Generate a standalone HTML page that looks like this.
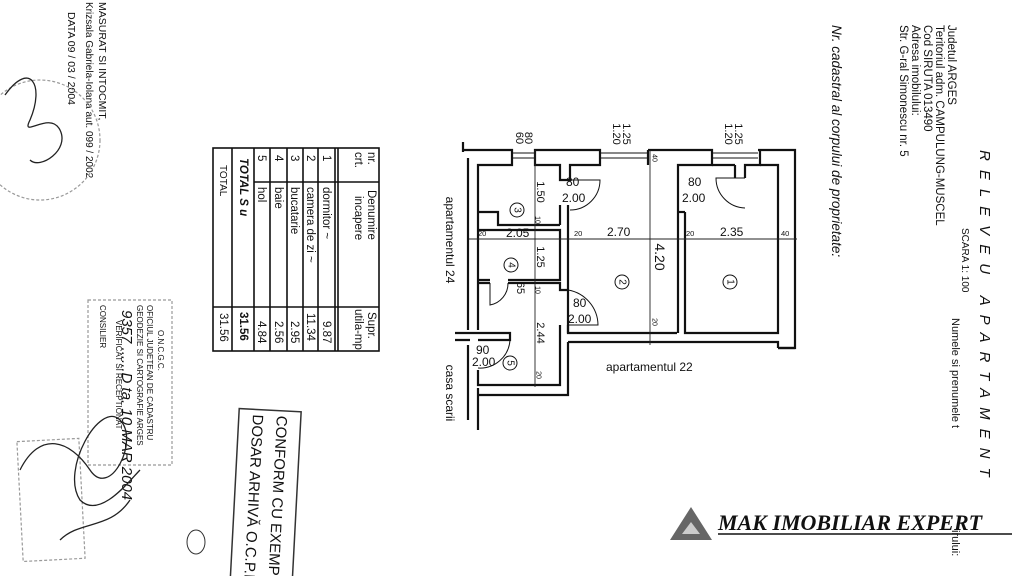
<!DOCTYPE html>
<html><head><meta charset="utf-8"><style>
html,body{margin:0;padding:0;background:#fff;}
svg{display:block;}
text{font-family:"Liberation Sans",sans-serif;fill:#111;}
text.logo{font-family:"Liberation Serif",serif;}
</style></head><body>
<svg width="1024" height="576" viewBox="0 0 1024 576" xmlns="http://www.w3.org/2000/svg">
<rect width="1024" height="576" fill="#fff"/>

<!-- Header (rotated) -->
<text transform="translate(980,150) rotate(90)" font-size="15" font-style="italic" letter-spacing="9">RELEVEU  APARTAMENT</text>
<text transform="translate(962,228) rotate(90)" font-size="10">SCARA 1: 100</text>
<text transform="translate(952,318) rotate(90)" font-size="11">Numele si prenumele t</text>
<text transform="translate(952,530) rotate(90)" font-size="11">irului:</text>
<text transform="translate(948,25) rotate(90)" font-size="11.5">Judetul  ARGES</text>
<text transform="translate(936,25) rotate(90)" font-size="11.5">Teritoriul adm.  CAMPULUNG-MUSCEL</text>
<text transform="translate(924,25) rotate(90)" font-size="11.5">Cod SIRUTA     013490</text>
<text transform="translate(912,25) rotate(90)" font-size="11.5">Adresa imobilului:</text>
<text transform="translate(900,25) rotate(90)" font-size="11.5">Str. G-ral Simonescu  nr. 5</text>
<text transform="translate(832,25) rotate(90)" font-size="13.5" font-style="italic">Nr. cadastral al corpului de proprietate:</text>

<!-- Left text -->
<text transform="translate(99,2) rotate(90)" font-size="10.5">MASURAT SI INTOCMIT,</text>
<text transform="translate(86,2) rotate(90)" font-size="10">Krizsala Gabriela-Iolana aut. 099 / 2002</text>
<text transform="translate(68,12) rotate(90)" font-size="10.5">DATA  09  / 03 / 2004</text>

<!-- Table -->
<g stroke="#111" stroke-width="1.6" fill="none">
<rect x="213" y="148" width="166" height="203"/>
<line x1="335" y1="148" x2="335" y2="351"/>
<line x1="338" y1="148" x2="338" y2="351"/>
<line x1="318" y1="148" x2="318" y2="351"/>
<line x1="303" y1="148" x2="303" y2="351"/>
<line x1="287" y1="148" x2="287" y2="351"/>
<line x1="270" y1="148" x2="270" y2="351"/>
<line x1="254" y1="148" x2="254" y2="351"/>
<line x1="232" y1="148" x2="232" y2="351"/>
<line x1="254" y1="182" x2="379" y2="182"/>
<line x1="213" y1="307" x2="379" y2="307"/>
</g>
<g font-size="11.5">
<text transform="translate(368,152) rotate(90)">nr.</text>
<text transform="translate(355,152) rotate(90)">crt.</text>
<text transform="translate(368,190) rotate(90)">Denumire</text>
<text transform="translate(355,196) rotate(90)">incapere</text>
<text transform="translate(368,312) rotate(90)">Supr.</text>
<text transform="translate(355,309) rotate(90)">utila-mp</text>
<text transform="translate(323,155) rotate(90)">1</text><text transform="translate(323,187) rotate(90)">dormitor ~</text><text transform="translate(323,321) rotate(90)">9.87</text>
<text transform="translate(307,155) rotate(90)">2</text><text transform="translate(307,187) rotate(90)">camera de zi ~</text><text transform="translate(307,313) rotate(90)">11.34</text>
<text transform="translate(291,155) rotate(90)">3</text><text transform="translate(291,187) rotate(90)">bucatarie</text><text transform="translate(291,321) rotate(90)">2.95</text>
<text transform="translate(275,155) rotate(90)">4</text><text transform="translate(275,187) rotate(90)">baie</text><text transform="translate(275,321) rotate(90)">2.56</text>
<text transform="translate(258,155) rotate(90)">5</text><text transform="translate(258,187) rotate(90)">hol</text><text transform="translate(258,321) rotate(90)">4.84</text>
<text transform="translate(240,158) rotate(90)" font-weight="bold" font-style="italic">TOTAL  S u</text><text transform="translate(240,312) rotate(90)" font-weight="bold">31.56</text>
<text transform="translate(220,165) rotate(90)" font-size="10">TOTAL</text><text transform="translate(220,313) rotate(90)">31.56</text>
</g>

<!-- Floor plan -->
<g stroke="#111" stroke-width="2.2" fill="none">
<path d="M463,142 V152 M463,150 H512 V165 H478 V330 M468,158 V330 M468,345 V420 M478,388 V430"/>
<path d="M535,150 H600 V165 H570 V180 H560 V165 H535 Z"/>
<path d="M648,150 H712 V165 H678 V333 M648,150 V165"/>
<path d="M758,150 H795 V348 H778 M760,150 V165 H745 V178 M735,165 V178 M735,165 H712"/>
<path d="M512,153 H535 M512,158 H535 M600,153 H648 M600,158 H648 M712,153 H758 M712,158 H758" stroke-width="1"/>
<path d="M685,212 V333 H778 V165 H760"/>
<path d="M678,212 H685"/>
<path d="M568,205 V333 H677"/>
<path d="M560,205 V225"/>
<path d="M478,212 H498 V225 H560"/>
<path d="M478,230 H560 V280 H508 M478,280 H490 M478,283 H490"/>
<path d="M508,283 H560 V290 H568"/>
<path d="M568,325 V333 M560,325 V330"/>
<path d="M455,333 H510 V340 H478 M455,340 H470"/>
<path d="M560,330 V385 H478 V370 M568,342 V395 H478"/>
<path d="M568,342 H778 V348 M778,348 H795"/>
</g>
<g stroke="#111" stroke-width="1" fill="none">
<path d="M570,180 H600 A30,30 0 0 1 570,210"/>
<path d="M745,178 H716 A30,30 0 0 0 745,208"/>
<path d="M568,290 A36,36 0 0 1 598,325 H568"/>
<path d="M508,283 A22,22 0 0 1 490,305 V283"/>
<path d="M510,340 A30,30 0 0 1 478,368"/>
</g>
<g stroke="#222" stroke-width="0.9">
<line x1="469" y1="239" x2="797" y2="239"/>
<line x1="535" y1="150" x2="535" y2="387"/>
<line x1="650" y1="150" x2="650" y2="345"/>
</g>
<g font-size="7.5">
<text x="478" y="236">20</text><text x="574" y="236">20</text><text x="686" y="236">20</text><text x="781" y="236">40</text>
</g>
<g font-size="12">
<text x="506" y="237">2.05</text><text x="607" y="236">2.70</text><text x="720" y="236">2.35</text>
<text x="566" y="186">80</text><text x="562" y="202">2.00</text>
<text x="688" y="186">80</text><text x="682" y="202">2.00</text>
<text x="573" y="307">80</text><text x="568" y="323">2.00</text>
<text x="476" y="354">90</text><text x="472" y="366">2.00</text>
<text x="606" y="371">apartamentul 22</text>
</g>
<g font-size="11">
<text transform="translate(540,192) rotate(90)" text-anchor="middle" dominant-baseline="central">1.50</text>
<text transform="translate(540,257) rotate(90)" text-anchor="middle" dominant-baseline="central">1.25</text>
<text transform="translate(540,333) rotate(90)" text-anchor="middle" dominant-baseline="central">2.44</text>
<text transform="translate(520,288) rotate(90)" text-anchor="middle" dominant-baseline="central">65</text>
<text transform="translate(660,257) rotate(90)" text-anchor="middle" dominant-baseline="central" font-size="14">4.20</text>
<text transform="translate(519,138) rotate(90)" text-anchor="middle" dominant-baseline="central">60</text>
<text transform="translate(528,138) rotate(90)" text-anchor="middle" dominant-baseline="central">80</text>
<text transform="translate(616,134) rotate(90)" text-anchor="middle" dominant-baseline="central">1.20</text>
<text transform="translate(626,134) rotate(90)" text-anchor="middle" dominant-baseline="central">1.25</text>
<text transform="translate(728,134) rotate(90)" text-anchor="middle" dominant-baseline="central">1.20</text>
<text transform="translate(738,134) rotate(90)" text-anchor="middle" dominant-baseline="central">1.25</text>
<text transform="translate(450,240) rotate(90)" text-anchor="middle" dominant-baseline="central" font-size="12">apartamentul 24</text>
<text transform="translate(450,393) rotate(90)" text-anchor="middle" dominant-baseline="central" font-size="12">casa scarii</text>
</g>
<g font-size="7">
<text transform="translate(537,220) rotate(90)" text-anchor="middle" dominant-baseline="central">10</text>
<text transform="translate(537,290) rotate(90)" text-anchor="middle" dominant-baseline="central">10</text>
<text transform="translate(538,375) rotate(90)" text-anchor="middle" dominant-baseline="central">20</text>
<text transform="translate(654,322) rotate(90)" text-anchor="middle" dominant-baseline="central">20</text>
<text transform="translate(654,158) rotate(90)" text-anchor="middle" dominant-baseline="central">40</text>
</g>
<g stroke="#111" stroke-width="1" fill="none">
<circle cx="517" cy="210" r="7"/><circle cx="511" cy="265" r="7"/><circle cx="622" cy="282" r="7"/><circle cx="730" cy="282" r="7"/><circle cx="510" cy="363" r="7"/>
</g>
<g font-size="10">
<text transform="translate(517,210) rotate(90)" text-anchor="middle" dominant-baseline="central">3</text>
<text transform="translate(511,265) rotate(90)" text-anchor="middle" dominant-baseline="central">4</text>
<text transform="translate(622,282) rotate(90)" text-anchor="middle" dominant-baseline="central">2</text>
<text transform="translate(730,282) rotate(90)" text-anchor="middle" dominant-baseline="central">1</text>
<text transform="translate(510,363) rotate(90)" text-anchor="middle" dominant-baseline="central">5</text>
</g>

<!-- stamps -->
<g stroke="#999" stroke-width="1.2" fill="none" stroke-dasharray="3,2">
<rect x="88" y="300" width="84" height="165"/>
<rect x="20" y="440" width="62" height="120" transform="rotate(-3,50,500)"/>
<circle cx="40" cy="140" r="60"/>
</g>
<g fill="#aaa" font-size="8">
<text transform="translate(158,330) rotate(90)">O.N.C.G.C.</text>
<text transform="translate(147,305) rotate(90)">OFICIUL JUDETEAN DE CADASTRU</text>
<text transform="translate(137,305) rotate(90)">GEODEZIE SI CARTOGRAFIE ARGES</text>
<text transform="translate(116,320) rotate(90)">VERIFICAT SI RECEPTIONAT</text>
<text transform="translate(100,305) rotate(90)">CONSILIER</text>
</g>
<text transform="translate(122,310) rotate(90)" font-size="15" font-style="italic" fill="#333">9357 ......D ta. 10 MAR 2004</text>
<g transform="rotate(93,265,490)">
<rect x="185" y="458" width="180" height="62" fill="none" stroke="#333" stroke-width="1.5"/>
<text x="190" y="482" font-size="15" fill="#222">CONFORM CU EXEMP</text>
<text x="190" y="506" font-size="15" fill="#222">DOSAR ARHIVĂ O.C.P.I.</text>
</g>
<ellipse cx="196" cy="542" rx="9" ry="12" fill="none" stroke="#333" stroke-width="1"/>
<g stroke="#222" stroke-width="1.3" fill="none">
<path d="M5,95 C30,60 45,85 30,120 C20,140 50,110 60,130 C70,150 40,170 30,160"/>
<path d="M20,470 C40,430 70,440 90,470 C110,500 140,440 120,420 C100,400 60,470 80,500 C100,520 130,480 140,470"/>
<path d="M60,540 C80,520 110,530 130,500"/>
</g>

<!-- logo -->
<polygon points="691,507 712,540 670,540" fill="#666"/>
<polygon points="691,522 700,534 682,534" fill="#ccc"/>
<text class="logo" x="718" y="530" font-size="22" font-weight="bold" font-style="italic" fill="#111">MAK IMOBILIAR EXPERT</text>
<line x1="718" y1="534" x2="1012" y2="534" stroke="#111" stroke-width="1.5"/>
</svg>
</body></html>
